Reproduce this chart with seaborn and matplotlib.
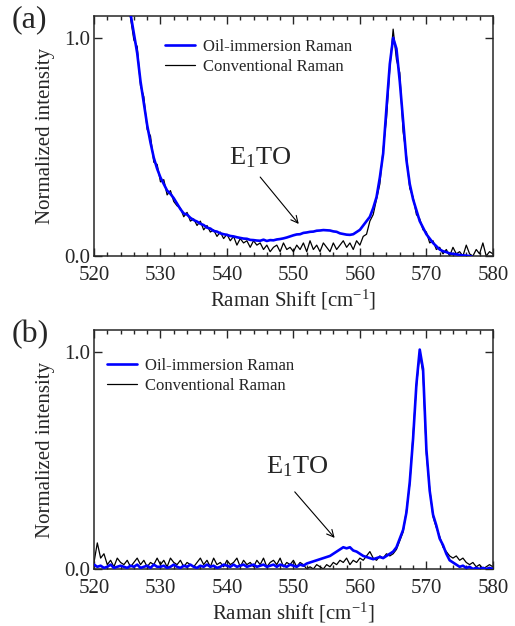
import numpy as np
import pandas as pd
import matplotlib
matplotlib.use("Agg")
import matplotlib.pyplot as plt
import seaborn as sns

# Raman shift grid (cm^-1), 0.5 cm^-1 steps
shift = np.arange(520.0, 580.25, 0.5)

# (a) values, rows = 5 cm^-1
oil_a = [
    2.60, 2.35, 2.12, 1.92, 1.75, 1.60, 1.48, 1.38, 1.30, 1.22,
    1.16, 1.11, 1.02, 0.93, 0.80, 0.70, 0.60, 0.52, 0.45, 0.40,
    0.36, 0.33, 0.30, 0.285, 0.265, 0.24, 0.215, 0.195, 0.19, 0.175,
    0.165, 0.158, 0.148, 0.142, 0.13, 0.126, 0.115, 0.112, 0.104, 0.10,
    0.097, 0.092, 0.09, 0.086, 0.083, 0.08, 0.079, 0.074, 0.073, 0.071,
    0.07, 0.075, 0.069, 0.073, 0.072, 0.076, 0.078, 0.081, 0.085, 0.09,
    0.095, 0.099, 0.10, 0.106, 0.108, 0.111, 0.112, 0.116, 0.117, 0.119,
    0.118, 0.117, 0.113, 0.111, 0.104, 0.101, 0.098, 0.097, 0.10, 0.11,
    0.12, 0.14, 0.16, 0.18, 0.22, 0.27, 0.36, 0.47, 0.68, 0.88,
    1.00, 0.95, 0.80, 0.62, 0.44, 0.33, 0.26, 0.21, 0.16, 0.13,
    0.10, 0.08, 0.06, 0.045, 0.03, 0.022, 0.018, 0.012, 0.01, 0.008,
    0.005, 0.003, 0.002, 0.0, -0.005, -0.01, -0.01, -0.01, -0.01, -0.01,
    -0.01,
]
conv_a = [
    2.62, 2.30, 2.15, 1.90, 1.78, 1.58, 1.50, 1.36, 1.32, 1.20,
    1.18, 1.09, 0.99, 0.96, 0.78, 0.73, 0.58, 0.55, 0.43, 0.42,
    0.34, 0.35, 0.28, 0.30, 0.25, 0.23, 0.22, 0.18, 0.20, 0.16,
    0.17, 0.14, 0.16, 0.12, 0.14, 0.11, 0.12, 0.09, 0.11, 0.08,
    0.10, 0.07, 0.09, 0.05, 0.08, 0.06, 0.07, 0.04, 0.07, 0.05,
    0.06, 0.03, 0.05, 0.02, 0.04, 0.05, 0.02, 0.06, 0.03, 0.04,
    0.02, 0.05, 0.03, 0.06, 0.02, 0.07, 0.03, 0.05, 0.02, 0.06,
    0.04, 0.02, 0.06, 0.03, 0.05, 0.07, 0.04, 0.06, 0.03, 0.07,
    0.05, 0.09, 0.10, 0.16, 0.19, 0.26, 0.33, 0.49, 0.63, 0.86,
    1.04, 0.90, 0.84, 0.57, 0.46, 0.31, 0.27, 0.19, 0.17, 0.12,
    0.11, 0.06, 0.07, 0.03, 0.04, 0.01, 0.03, 0.00, 0.04, 0.01,
    0.02, 0.00, 0.05, 0.01, 0.00, 0.03, 0.01, 0.06, 0.00, 0.02,
    0.01,
]

# (b)
oil_b = [
    0.02, 0.01, 0.015, 0.005, 0.01, 0.02, 0.005, 0.01, 0.015, 0.01,
    0.005, 0.015, 0.01, 0.02, 0.005, 0.01, 0.015, 0.005, 0.02, 0.01,
    0.01, 0.015, 0.005, 0.01, 0.02, 0.01, 0.005, 0.015, 0.01, 0.02,
    0.01, 0.005, 0.015, 0.01, 0.02, 0.01, 0.015, 0.005, 0.01, 0.02,
    0.015, 0.01, 0.02, 0.01, 0.015, 0.02, 0.01, 0.015, 0.02, 0.01,
    0.015, 0.02, 0.01, 0.015, 0.02, 0.01, 0.02, 0.015, 0.01, 0.02,
    0.015, 0.01, 0.02, 0.015, 0.025, 0.03, 0.035, 0.04, 0.045, 0.05,
    0.055, 0.06, 0.07, 0.08, 0.09, 0.10, 0.095, 0.10, 0.085, 0.08,
    0.07, 0.06, 0.055, 0.05, 0.045, 0.05, 0.055, 0.05, 0.06, 0.07,
    0.08, 0.10, 0.14, 0.18, 0.26, 0.40, 0.60, 0.85, 1.01, 0.92,
    0.55, 0.36, 0.25, 0.20, 0.14, 0.11, 0.07, 0.04, 0.03, 0.02,
    0.01, 0.015, 0.005, 0.01, 0.0, 0.005, 0.0, 0.005, 0.0, 0.005,
    0.0,
]
conv_b = [
    0.03, 0.12, 0.05, 0.07, 0.02, 0.04, 0.01, 0.05, 0.03, 0.02,
    0.04, 0.01, 0.03, 0.05, 0.02, 0.04, 0.01, 0.03, 0.02, 0.05,
    0.02, 0.04, 0.01, 0.05, 0.03, 0.02, 0.04, 0.01, 0.03, 0.02,
    0.01, 0.03, 0.05, 0.02, 0.04, 0.01, 0.05, 0.02, 0.03, 0.01,
    0.04, 0.02, 0.03, 0.05, 0.01, 0.04, 0.02, 0.03, 0.01, 0.04,
    0.02, 0.05, 0.01, 0.03, 0.04, 0.02, 0.05, 0.01, 0.03, 0.02,
    0.04, 0.01, 0.03, 0.02, 0.00, 0.01, 0.00, 0.02, 0.01, 0.00,
    0.02, 0.01, 0.03, 0.02, 0.04, 0.03, 0.05, 0.02, 0.04, 0.03,
    0.05, 0.04, 0.06, 0.08, 0.05, 0.04, 0.06, 0.05, 0.07, 0.06,
    0.07, 0.09, 0.13, 0.17, 0.27, 0.39, 0.62, 0.84, 0.99, 0.90,
    0.53, 0.37, 0.24, 0.19, 0.15, 0.10, 0.08, 0.06, 0.05, 0.06,
    0.04, 0.05, 0.03, 0.02, 0.03, 0.01, 0.02, 0.00, 0.01, 0.02,
    0.01,
]

panels = [
    dict(tag="(a)", oil=oil_a, conv=conv_a, xlabel="Raman Shift [cm$^{\\mathrm{-1}}$]",
         text_xy=(540.3, 0.422), arrow_tail=(545.0, 0.362), arrow_head=(550.8, 0.147),
         legend_xy=(0.178, 0.905)),
    dict(tag="(b)", oil=oil_b, conv=conv_b, xlabel="Raman shift [cm$^{\\mathrm{-1}}$]",
         text_xy=(545.8, 0.438), arrow_tail=(550.2, 0.355), arrow_head=(556.2, 0.143),
         legend_xy=(0.033, 0.885)),
]

sns.set_style("ticks")
plt.rcParams["font.family"] = ["Liberation Serif", "DejaVu Serif"]
plt.rcParams["mathtext.fontset"] = "custom"
plt.rcParams["mathtext.rm"] = "Liberation Serif"
plt.rcParams["mathtext.it"] = "Liberation Serif:italic"

fig = plt.figure(figsize=(5.15, 6.26), dpi=100)
boxes = [[0.1825, 0.591, 0.7745, 0.3834], [0.1825, 0.0911, 0.7745, 0.3817]]
fig_tags_y = [1 - 5 / 626, 1 - 320 / 626]

for p, box, ty in zip(panels, boxes, fig_tags_y):
    ax = fig.add_axes(box)
    df = pd.DataFrame({"shift": shift, "oil": p["oil"], "conv": p["conv"]})
    sns.lineplot(data=df, x="shift", y="conv", ax=ax, color="black", lw=0.9,
                 label="Conventional Raman", zorder=2)
    sns.lineplot(data=df, x="shift", y="oil", ax=ax, color="#0000ff", lw=1.9,
                 label="Oil-immersion Raman", zorder=3)

    ax.set_xlim(520, 580)
    ax.set_ylim(0, 1.10)
    ax.set_xticks(np.arange(520, 581, 10))
    ax.set_xticks(np.arange(520, 581, 2), minor=True)
    ax.set_yticks([0.0, 1.0])
    ax.set_yticklabels(["0.0", "1.0"])
    ax.tick_params(which="both", direction="in", top=True, right=True, width=1.0,
                   labelsize=15)
    ax.tick_params(axis="x", which="major", length=6, pad=7)
    ax.tick_params(axis="x", which="minor", length=3)
    ax.tick_params(axis="y", which="major", length=6, pad=3)
    for s in ax.spines.values():
        s.set_linewidth(1.1)

    ax.set_xlabel(p["xlabel"], fontsize=15, labelpad=2)
    ax.set_ylabel("Normalized intensity", fontsize=15, labelpad=6)

    handles, labels = ax.get_legend_handles_labels()
    ax.legend(handles[::-1], labels[::-1], loc="upper left", bbox_to_anchor=p["legend_xy"],
              frameon=False, fontsize=12, borderpad=0, borderaxespad=0,
              handlelength=1.8, handletextpad=0.5, labelspacing=0.25)

    ax.text(*p["text_xy"], "E$_{\\mathrm{1}}$TO", fontsize=19, ha="left", va="baseline")
    ax.annotate("", xy=p["arrow_head"], xytext=p["arrow_tail"],
                arrowprops=dict(arrowstyle="->,head_length=0.5,head_width=0.25",
                                lw=0.8, color="black", shrinkA=0, shrinkB=0))

    fig.text(12 / 515, ty, p["tag"], fontsize=23, ha="left", va="top")

fig.savefig("out.png", dpi=100)
